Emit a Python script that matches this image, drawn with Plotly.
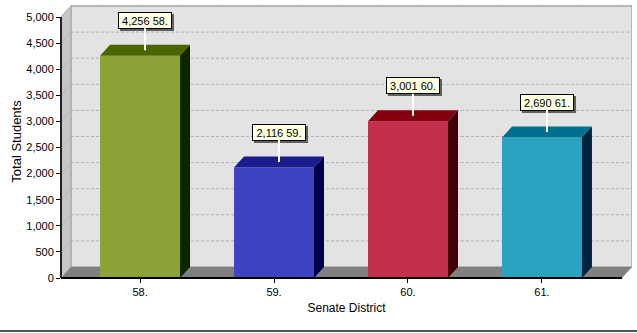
import plotly.graph_objects as go

categories = ["58.", "59.", "60.", "61."]
values = [4256, 2116, 3001, 2690]
front_colors = ["#8aa236", "#3c44c2", "#c4304b", "#2aa3c2"]
top_colors = ["#4b6500", "#1c1c8e", "#85000f", "#00708e"]
side_colors = ["#0e2500", "#00004a", "#3f0005", "#00243f"]
y_ticks = list(range(0, 5001, 500))

FONT = "Liberation Sans, Arial, sans-serif"
X0, X1 = -0.59, 3.672
YMAX = 5230
DX = 10 / 134.0
DY = 211.0
BW = 0.597

fig = go.Figure()

shapes = []
# back wall
shapes.append(dict(type="rect", xref="x", yref="y", x0=X0 + DX, x1=X1, y0=DY, y1=5000 + DY,
                   fillcolor="#e3e3e3", line=dict(color="#a8a8a8", width=1.5), layer="below"))
# left wall
shapes.append(dict(type="path", xref="x", yref="y",
                   path=f"M {X0},0 L {X0+DX},{DY} L {X0+DX},{5000+DY} L {X0},5000 Z",
                   fillcolor="#c6c6c6", line=dict(color="#a8a8a8", width=1), layer="below"))
# gridlines
for v in y_ticks[1:]:
    shapes.append(dict(type="line", xref="x", yref="y", x0=X0 + DX, x1=X1, y0=v + DY, y1=v + DY,
                       line=dict(color="#b0b0b0", width=1, dash="3px,2px"), layer="below"))
    shapes.append(dict(type="line", xref="x", yref="y", x0=X0, x1=X0 + DX, y0=v, y1=v + DY,
                       line=dict(color="#b4b4b4", width=1), layer="below"))
# floor
shapes.append(dict(type="path", xref="x", yref="y",
                   path=f"M {X0},0 L {X0+DX},{DY} L {X1},{DY} L {X1-DX},0 Z",
                   fillcolor="#808080", line=dict(color="#808080", width=0), layer="below"))
# axis lines
shapes.append(dict(type="line", xref="paper", yref="y", x0=0, x1=0, y0=0, y1=5000,
                   line=dict(color="#222222", width=2), layer="above"))
shapes.append(dict(type="line", xref="x", yref="paper", x0=X0, x1=X1 - DX, y0=0, y1=0,
                   line=dict(color="#000000", width=2), layer="above"))
# bottom border line of the image
by = (278 - 331) / 273.0
shapes.append(dict(type="line", xref="paper", yref="paper", x0=-61 / 571.0, x1=1 + 5 / 571.0, y0=by, y1=by,
                   line=dict(color="#555555", width=2), layer="above"))

xs = list(range(len(categories)))

fig.add_trace(go.Bar(x=xs, y=values, width=BW, marker=dict(color=front_colors, line=dict(width=0)),
                     hoverinfo="skip", showlegend=False))

for i, v in enumerate(values):
    l, r = xs[i] - BW / 2, xs[i] + BW / 2
    # top face
    fig.add_trace(go.Scatter(x=[l, l + DX, r + DX, r, l], y=[v, v + DY, v + DY, v, v],
                             mode="lines", fill="toself", fillcolor=top_colors[i],
                             line=dict(width=0, color=top_colors[i]), hoverinfo="skip", showlegend=False))
    # side face
    fig.add_trace(go.Scatter(x=[r, r + DX, r + DX, r, r], y=[0, DY, v + DY, v, 0],
                             mode="lines", fill="toself", fillcolor=side_colors[i],
                             line=dict(width=0, color=side_colors[i]), hoverinfo="skip", showlegend=False))

annotations = []
BOXW, BOXH = 50, 13
for i, v in enumerate(values):
    txt = f"{v:,} {categories[i]}"
    px, py = xs[i] + DX / 2, v + DY / 2
    # shadow box (no text)
    annotations.append(dict(x=px, y=py, xref="x", yref="y", text=" ", showarrow=True,
                            ax=0, ay=-30, arrowcolor="rgba(0,0,0,0)", arrowwidth=1, arrowhead=0,
                            xshift=2, yshift=-2, width=BOXW, height=BOXH,
                            font=dict(family=FONT, size=11, color="#606060"),
                            bgcolor="#606060", bordercolor="#606060", borderwidth=1, borderpad=1))
    annotations.append(dict(x=px, y=py, xref="x", yref="y", text=txt, showarrow=True,
                            ax=0, ay=-30, arrowcolor="#ffffff", arrowwidth=2, arrowhead=0,
                            width=BOXW, height=BOXH,
                            font=dict(family=FONT, size=11, color="#000000"),
                            bgcolor="#ffffe1", bordercolor="#000000", borderwidth=1, borderpad=1))

fig.update_layout(
    width=637, height=333,
    margin=dict(l=61, r=5, t=5, b=55),
    paper_bgcolor="#ffffff", plot_bgcolor="#ffffff",
    shapes=shapes, annotations=annotations,
    font=dict(family=FONT, size=11, color="#000000"),
    xaxis=dict(range=[X0, X1], tickvals=xs, ticktext=categories, showgrid=False, zeroline=False,
               showline=False, ticks="outside", ticklen=4, tickcolor="#000000",
               tickfont=dict(family=FONT, size=11, color="#000000"),
               title=dict(text="Senate District", font=dict(family=FONT, size=12, color="#000000"), standoff=6)),
    yaxis=dict(range=[0, YMAX], tickvals=y_ticks, tickformat=",d", showgrid=False, zeroline=False,
               showline=False, ticks="outside", ticklen=4, tickcolor="#000000",
               tickfont=dict(family=FONT, size=11, color="#000000"),
               title=dict(text="Total Students", font=dict(family=FONT, size=13, color="#000000"), standoff=1)),
)

fig.write_html("out.html")
